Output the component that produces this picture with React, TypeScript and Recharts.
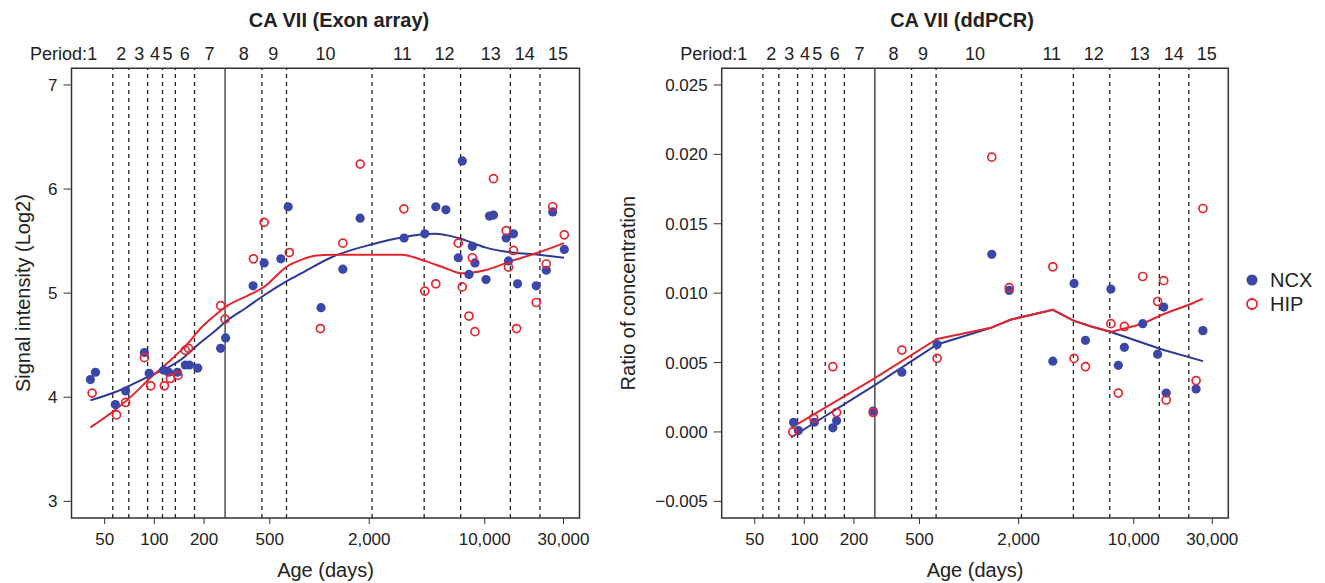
import React from 'react';
import { ComposedChart, Scatter, Line, XAxis, YAxis, ReferenceLine, ReferenceArea } from 'recharts';

const FONT = '"Liberation Sans", Arial, Helvetica, sans-serif';
const BLUE = '#3A47A8';
const BLUE_LINE = '#2C3894';
const RED = '#E3262D';
const INK = '#222';

// x axis: age in days (log)
const ageDomain: [number, number] = [31.5, 37500];
const ageTicks = [50, 100, 200, 500, 2000, 10000, 30000];
const periodBounds = [56, 70, 91, 112, 134, 175, 448, 631, 2080, 4300, 7150, 14300, 21600];
const birthAge = 268;
const periodMid = [42, 63, 81, 101, 120, 153, 216, 348, 525, 1087, 3177, 5717, 10870, 17500, 27800];
const periodNames = ['1', '2', '3', '4', '5', '6', '7', '8', '9', '10', '11', '12', '13', '14', '15'];

// left panel: exon array, [age, log2 signal]
const exonTicks = [3, 4, 5, 6, 7];
const exonNcx = [
  [41, 4.17], [44, 4.24], [58, 3.93], [67, 4.06], [87, 4.43], [93, 4.23], [114, 4.26], [122, 4.24],
  [138, 4.24], [154, 4.31], [163, 4.31], [183, 4.28], [252, 4.47], [270, 4.57], [396, 5.07], [462, 5.29],
  [583, 5.33], [646, 5.83], [1021, 4.86], [1384, 5.23], [1762, 5.72], [3251, 5.53], [4337, 5.57],
  [5058, 5.83], [5820, 5.8], [6918, 5.34], [7318, 6.27], [8033, 5.18], [8418, 5.45], [8730, 5.29],
  [10190, 5.13], [10690, 5.74], [11300, 5.75], [13490, 5.53], [13930, 5.31], [14940, 5.57],
  [15810, 5.09], [20510, 5.07], [23600, 5.22], [25800, 5.78], [30350, 5.42],
];
const exonHip = [
  [42, 4.04], [59, 3.83], [67, 3.95], [87, 4.38], [95, 4.11], [115, 4.11], [125, 4.18], [139, 4.21],
  [154, 4.45], [161, 4.47], [252, 4.88], [268, 4.75], [398, 5.33], [462, 5.68], [656, 5.39], [1012, 4.66],
  [1384, 5.48], [1762, 6.24], [3240, 5.81], [4337, 5.02], [5058, 5.09], [6918, 5.48], [7318, 5.06],
  [8033, 4.78], [8418, 5.34], [8730, 4.63], [11300, 6.1], [13490, 5.6], [13930, 5.25], [14940, 5.41],
  [15600, 4.66], [20510, 4.91], [23600, 5.28], [25800, 5.83], [30350, 5.56],
];
const exonNcxFit = [
  [41, 3.97], [58, 4.05], [75, 4.13], [95, 4.21], [119, 4.28], [150, 4.38], [182, 4.5], [230, 4.63],
  [277, 4.74], [360, 4.86], [462, 4.98], [641, 5.12], [773, 5.19], [1200, 5.35], [2085, 5.47],
  [3251, 5.54], [4990, 5.57], [6918, 5.53], [10050, 5.44], [14620, 5.39], [21150, 5.37], [30200, 5.34],
];
const exonHipFit = [
  [41, 3.71], [58, 3.88], [75, 4.03], [95, 4.19], [120, 4.33], [158, 4.51], [190, 4.66], [230, 4.78],
  [277, 4.88], [360, 4.97], [462, 5.06], [641, 5.26], [773, 5.32], [934, 5.36], [1200, 5.37],
  [2000, 5.37], [3120, 5.37], [4337, 5.31], [6014, 5.23], [7260, 5.19], [10050, 5.22], [14620, 5.31],
  [21150, 5.39], [30200, 5.48],
];

// right panel: ddPCR, [age, ratio]
const pcrTicks = [-0.005, 0, 0.005, 0.01, 0.015, 0.02, 0.025];
const pcrNcx = [
  [86, 0.0007], [92, 0.0001], [115, 0.0007], [149, 0.0003], [157, 0.0008], [262, 0.0015], [391, 0.0043],
  [640, 0.0063], [1374, 0.0128], [1754, 0.0102], [3227, 0.0051], [4343, 0.0107], [5093, 0.0066],
  [7263, 0.0103], [8060, 0.0048], [8770, 0.0061], [11340, 0.0078], [13960, 0.0056], [15200, 0.009],
  [15750, 0.0028], [23900, 0.0031], [26300, 0.0073],
];
const pcrHip = [
  [85, 0.0], [114, 0.001], [149, 0.0047], [157, 0.0014], [262, 0.0014], [391, 0.0059], [640, 0.0053],
  [1374, 0.0198], [1754, 0.0104], [3227, 0.0119], [4343, 0.0053], [5093, 0.0047], [7263, 0.0078],
  [8060, 0.0028], [8770, 0.0076], [11340, 0.0112], [13960, 0.0094], [15200, 0.0109], [15750, 0.0023],
  [23900, 0.0037], [26300, 0.0161],
];
const pcrNcxFit = [
  [83, -0.0004], [262, 0.0033], [640, 0.0063], [1357, 0.0075], [1800, 0.0081], [3227, 0.0088],
  [4343, 0.008], [5525, 0.0076], [7263, 0.0072], [15200, 0.0059], [26300, 0.0051],
];
const pcrHipFit = [
  [83, 0.0003], [262, 0.0038], [640, 0.0067], [1357, 0.0075], [1800, 0.0081], [3227, 0.0088],
  [4343, 0.008], [5525, 0.0076], [7263, 0.0072], [8770, 0.00745], [11340, 0.0078], [15200, 0.0085],
  [22000, 0.0092], [26300, 0.0096],
];

const rows = (pts: number[][]) => pts.map(([age, v]) => ({ age, v }));

const Dot = (props: any) => <circle cx={props.cx} cy={props.cy} r={4.6} fill={BLUE} />;
const Ring = (props: any) => (
  <circle cx={props.cx} cy={props.cy} r={4} fill="none" stroke={RED} strokeWidth={1.7} />
);

// period number drawn above the frame, at the x of its (invisible) reference line
const PeriodLabel = (props: any) => {
  const vb = props.viewBox || {};
  const x = vb.x;
  const top = Math.min(vb.y, vb.y + (vb.height || 0));
  const y = top - 8;
  return (
    <g fontFamily={FONT} fontSize={18} fill={INK}>
      {props.idx === 0 && (
        <text x={x - 5} y={y} textAnchor="end">
          Period:
        </text>
      )}
      <text x={x} y={y} textAnchor="middle">
        {periodNames[props.idx]}
      </text>
    </g>
  );
};

const Panel = ({ width, marginRight, axisWidth, yLabel, labelX, yDomain, yTicks, yFormat, ncx, hip, ncxFit, hipFit, fitType }: any) => (
  <ComposedChart width={width} height={583} margin={{ top: 68.3, right: marginRight, bottom: 0, left: 0 }}>
    <XAxis
      dataKey="age"
      type="number"
      scale="log"
      domain={ageDomain}
      allowDataOverflow
      ticks={ageTicks}
      interval={0}
      height={65}
      tickSize={6}
      tickMargin={9}
      axisLine={false}
      tickLine={{ stroke: '#333' }}
      tickFormatter={(v: number) => v.toLocaleString('en-US')}
      tick={{ fontSize: 17, fill: INK, fontFamily: FONT }}
      label={{ value: 'Age (days)', position: 'insideBottom', offset: 6, fontSize: 20, fill: INK, fontFamily: FONT }}
    />
    <YAxis
      dataKey="v"
      type="number"
      domain={yDomain}
      allowDataOverflow
      ticks={yTicks}
      interval={0}
      width={axisWidth}
      tickSize={8}
      tickMargin={6}
      axisLine={false}
      tickLine={{ stroke: '#333' }}
      tickFormatter={yFormat}
      tick={{ fontSize: 17, fill: INK, fontFamily: FONT }}
      label={{
        value: yLabel,
        angle: -90,
        position: 'insideLeft',
        offset: labelX,
        fontSize: 20,
        fill: INK,
        fontFamily: FONT,
        style: { textAnchor: 'middle' },
      }}
    />
    {periodBounds.map((b) => (
      <ReferenceLine key={b} x={b} stroke={INK} strokeWidth={1.3} strokeDasharray="4 4" />
    ))}
    <ReferenceLine x={birthAge} stroke="#333" strokeWidth={1.3} />
    {periodMid.map((m, i) => (
      <ReferenceLine key={'p' + m} x={m} stroke="none" label={<PeriodLabel idx={i} />} />
    ))}
    <Scatter data={rows(ncx)} shape={Dot} isAnimationActive={false} />
    <Scatter data={rows(hip)} shape={Ring} isAnimationActive={false} />
    <Line data={rows(ncxFit)} dataKey="v" type={fitType} stroke={BLUE_LINE} strokeWidth={2} dot={false} activeDot={false} isAnimationActive={false} />
    <Line data={rows(hipFit)} dataKey="v" type={fitType} stroke={RED} strokeWidth={2} dot={false} activeDot={false} isAnimationActive={false} />
    <ReferenceArea
      x1={ageDomain[0]}
      x2={ageDomain[1]}
      y1={yDomain[0]}
      y2={yDomain[1]}
      fill="none"
      stroke="#333"
      strokeWidth={1.5}
      ifOverflow="visible"
    />
  </ComposedChart>
);

const titleStyle: React.CSSProperties = {
  position: 'absolute',
  top: 10,
  width: 300,
  textAlign: 'center',
  fontFamily: FONT,
  fontWeight: 'bold',
  fontSize: 20,
  lineHeight: '20px',
  color: INK,
};

const legendRow: React.CSSProperties = {
  display: 'flex',
  alignItems: 'center',
  height: 24,
  fontFamily: FONT,
  fontSize: 20,
  color: INK,
};

export default function App() {
  return (
    <div style={{ position: 'absolute', left: 0, top: 0, width: 1325, height: 583, background: '#fff' }}>
      <div style={{ ...titleStyle, left: 339 - 150 }}>CA VII (Exon array)</div>
      <div style={{ ...titleStyle, left: 962 - 150 }}>CA VII (ddPCR)</div>
      <div style={{ position: 'absolute', left: 0, top: 0 }}>
        <Panel
          width={600}
          marginRight={20.5}
          axisWidth={71.5}
          yLabel="Signal intensity (Log2)"
          labelX={23}
          yDomain={[2.84, 7.16]}
          yTicks={exonTicks}
          yFormat={(v: number) => String(v)}
          ncx={exonNcx}
          hip={exonHip}
          ncxFit={exonNcxFit}
          hipFit={exonHipFit}
          fitType="monotone"
        />
      </div>
      <div style={{ position: 'absolute', left: 600, top: 0 }}>
        <Panel
          width={725}
          marginRight={96.7}
          axisWidth={121.7}
          yLabel="Ratio of concentration"
          labelX={28}
          yDomain={[-0.0062, 0.0262]}
          yTicks={pcrTicks}
          yFormat={(v: number) => (v < 0 ? '\u2212' + Math.abs(v).toFixed(3) : v.toFixed(3))}
          ncx={pcrNcx}
          hip={pcrHip}
          ncxFit={pcrNcxFit}
          hipFit={pcrHipFit}
          fitType="linear"
        />
      </div>
      <div style={{ position: 'absolute', left: 1243, top: 268 }}>
        <div style={legendRow}>
          <svg width={18} height={18}>
            <circle cx={9} cy={9} r={5.5} fill={BLUE} />
          </svg>
          <span style={{ marginLeft: 9 }}>NCX</span>
        </div>
        <div style={legendRow}>
          <svg width={18} height={18}>
            <circle cx={9} cy={9} r={5} fill="none" stroke={RED} strokeWidth={1.8} />
          </svg>
          <span style={{ marginLeft: 9 }}>HIP</span>
        </div>
      </div>
    </div>
  );
}
